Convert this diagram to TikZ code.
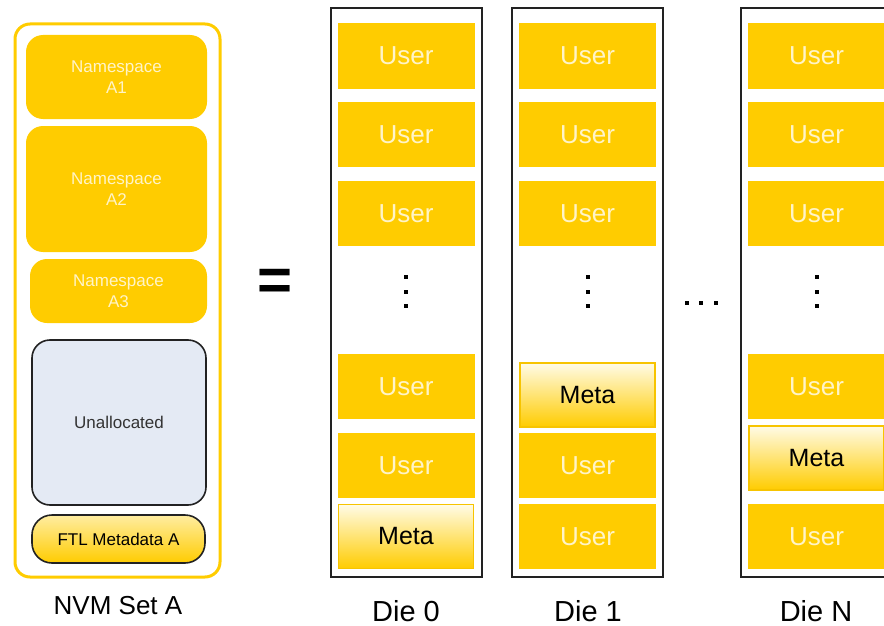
\documentclass[tikz,border=0pt]{standalone}
\usepackage{fontspec}
\setmainfont{Liberation Sans}
\definecolor{ssdyellow}{HTML}{FFCC00}
\definecolor{lighttext}{HTML}{FFF4C8}
\definecolor{unalloc}{HTML}{E4EAF4}
\definecolor{edge}{HTML}{222222}
\definecolor{metatop}{HTML}{FFFBE6}
\definecolor{metaedge}{HTML}{F7C400}
\tikzset{
  region/.style={draw=none, fill=ssdyellow, rounded corners=17pt, inner sep=0pt,
    text=lighttext, align=center, font=\fontsize{17}{21}\selectfont},
  userblk/.style={fill=ssdyellow, inner sep=0pt, outer sep=0pt, minimum width=137pt,
    text=lighttext, font=\fontsize{26}{26}\selectfont},
  metablk/.style={draw=metaedge, line width=1.2pt, top color=metatop, bottom color=ssdyellow,
    inner sep=0pt, outer sep=0pt, minimum width=135pt, minimum height=64pt,
    text=black, font=\fontsize{25}{25}\selectfont},
  dieframe/.style={draw=edge, line width=2.2pt, inner sep=0pt},
  caption/.style={font=\fontsize{26}{26}\selectfont, text=black},
  diecaption/.style={font=\fontsize{29}{29}\selectfont, text=black},
  vdot/.style={fill=black, minimum size=4pt, inner sep=0pt},
}
\begin{document}
\begin{tikzpicture}[x=1pt, y=-1pt]
\useasboundingbox (0,0) rectangle (884,626);
\clip (0,0) rectangle (884,626);

% ---------- NVM Set A ----------
\draw[ssdyellow, line width=3pt, rounded corners=15pt] (15,24) rectangle (220,577);
\node[region, minimum width=181pt, minimum height=84pt] (ns1) at (116.5,77) {Namespace\\A1};
\node[region, minimum width=181pt, minimum height=126pt] (ns2) at (116.5,189) {Namespace\\A2};
\node[region, minimum width=177pt, minimum height=64pt] (ns3) at (118.5,291) {Namespace\\A3};
\node[draw=edge, line width=1.6pt, fill=unalloc, rounded corners=18pt, inner sep=0pt,
      minimum width=174pt, minimum height=165pt, text=black!80,
      font=\fontsize{17}{17}\selectfont] (unal) at (119,422.5) {Unallocated};
\node[draw=edge, line width=1.6pt, top color=metatop!70!ssdyellow, bottom color=ssdyellow,
      rounded corners=20pt, inner sep=0pt, minimum width=173pt, minimum height=48pt,
      font=\fontsize{17}{17}\selectfont] (ftl) at (118.5,539) {FTL Metadata A};
\node[caption] (setA) at (118,606) {NVM Set A};

% ---------- equals sign ----------
\node[font=\fontsize{60}{60}\selectfont\bfseries] (eq) at (275,285) {=};

% ---------- Die 0 ----------
\node[dieframe, minimum width=151pt, minimum height=569pt] (die0) at (406.5,292.5) {};
\node[userblk, minimum height=66pt] (d0u1) at (406,56) {User};
\node[userblk, minimum height=65pt] (d0u2) at (406,134.5) {User};
\node[userblk, minimum height=65pt] (d0u3) at (406,213.5) {User};
\node[vdot] (d0a) at (406,277) {};
\node[vdot] (d0b) at (406,291.5) {};
\node[vdot] (d0c) at (406,306) {};
\node[userblk, minimum height=65pt] (d0u4) at (406,386.5) {User};
\node[userblk, minimum height=65pt] (d0u5) at (406,465.5) {User};
\node[metablk] (d0m) at (406,536.5) {Meta};
\node[diecaption] (l0) at (406,611) {Die 0};

% ---------- Die 1 ----------
\node[dieframe, minimum width=151pt, minimum height=569pt] (die1) at (587.5,292.5) {};
\node[userblk, minimum height=66pt] (d1u1) at (587.5,56) {User};
\node[userblk, minimum height=65pt] (d1u2) at (587.5,134.5) {User};
\node[userblk, minimum height=65pt] (d1u3) at (587.5,213.5) {User};
\node[vdot] (d1a) at (588,277) {};
\node[vdot] (d1b) at (588,291.5) {};
\node[vdot] (d1c) at (588,306) {};
\node[metablk] (d1m) at (587.5,395) {Meta};
\node[userblk, minimum height=65pt] (d1u4) at (587.5,465.5) {User};
\node[userblk, minimum height=65pt] (d1u5) at (587.5,536.5) {User};
\node[diecaption] (l1) at (588,611) {Die 1};

% ---------- horizontal ellipsis ----------
\node[vdot] (h1) at (686.5,303) {};
\node[vdot] (h2) at (701,303) {};
\node[vdot] (h3) at (715.5,303) {};

% ---------- Die N ----------
\node[dieframe, minimum width=151pt, minimum height=569pt] (dieN) at (816.5,292.5) {};
\node[userblk, minimum height=66pt] (dNu1) at (816.5,56) {User};
\node[userblk, minimum height=65pt] (dNu2) at (816.5,134.5) {User};
\node[userblk, minimum height=65pt] (dNu3) at (816.5,213.5) {User};
\node[vdot] (dNa) at (817,277) {};
\node[vdot] (dNb) at (817,291.5) {};
\node[vdot] (dNc) at (817,306) {};
\node[userblk, minimum height=65pt] (dNu4) at (816.5,386.5) {User};
\node[metablk] (dNm) at (816.5,458) {Meta};
\node[userblk, minimum height=65pt] (dNu5) at (816.5,536.5) {User};
\node[diecaption] (lN) at (816,611) {Die N};
\end{tikzpicture}
\end{document}
